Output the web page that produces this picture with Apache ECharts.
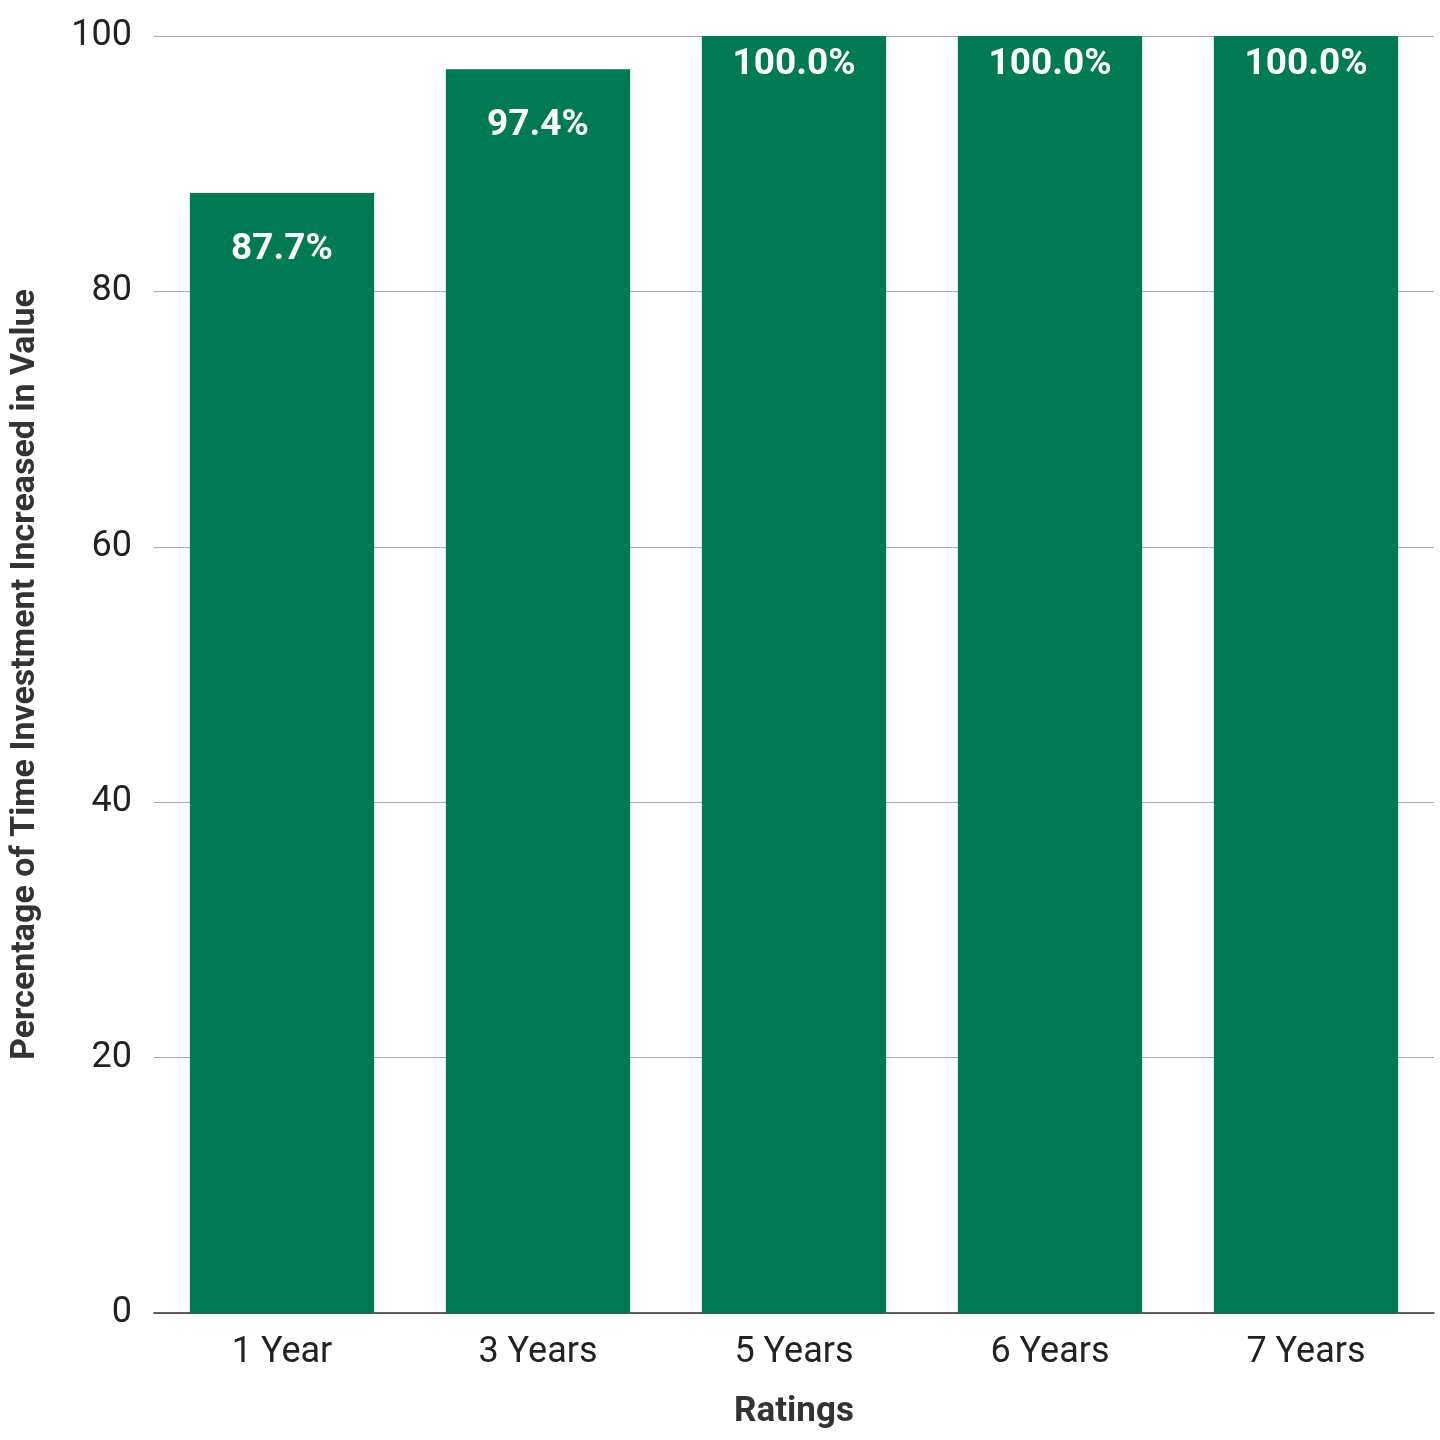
<!DOCTYPE html>
<html><head><meta charset="utf-8">
<script src="https://cdn.jsdelivr.net/npm/echarts@6/dist/echarts.min.js"></script>
<style>html,body{margin:0;background:#fff}#c{width:1440px;height:1440px}</style>
</head><body><div id="c"></div>
<script>
const categories = ['1 Year','3 Years','5 Years','6 Years','7 Years'];
const values = [87.7, 97.4, 100.0, 100.0, 100.0];
const yTicks = [0, 20, 40, 60, 80, 100];

const chart = echarts.init(document.getElementById('c'));
chart.setOption({
  animation:false,
  textStyle:{fontFamily:'Roboto'},
  grid:{left:148,right:6,top:36,bottom:127},
  xAxis:{type:'category',data:categories,
    axisLine:{lineStyle:{color:'#333',width:1.5}},axisTick:{show:false},
    axisLabel:{fontSize:36,color:'#222',margin:22},
    name:'Ratings',nameLocation:'middle',nameGap:82,
    nameTextStyle:{fontSize:35,fontWeight:'bold',color:'#333'}},
  yAxis:{type:'value',min:yTicks[0],max:yTicks[yTicks.length-1],interval:20,
    axisLabel:{fontSize:36,color:'#222',margin:22},
    splitLine:{lineStyle:{color:'#aaa',width:1}},
    name:'Percentage of Time Investment Increased in Value',nameLocation:'middle',nameGap:112,
    nameTextStyle:{fontSize:34,fontWeight:'bold',color:'#333'}},
  series:[{type:'bar',barCategoryGap:'28%',
    itemStyle:{color:'#007A53'},
    data:values.map(v=>({value:v,label:{distance:v>=100?10:38}})),
    label:{show:true,position:'insideTop',color:'#fff',fontSize:37,fontWeight:'bold',
      formatter:p=>p.value.toFixed(1)+'%'}}]
});
</script></body></html>
